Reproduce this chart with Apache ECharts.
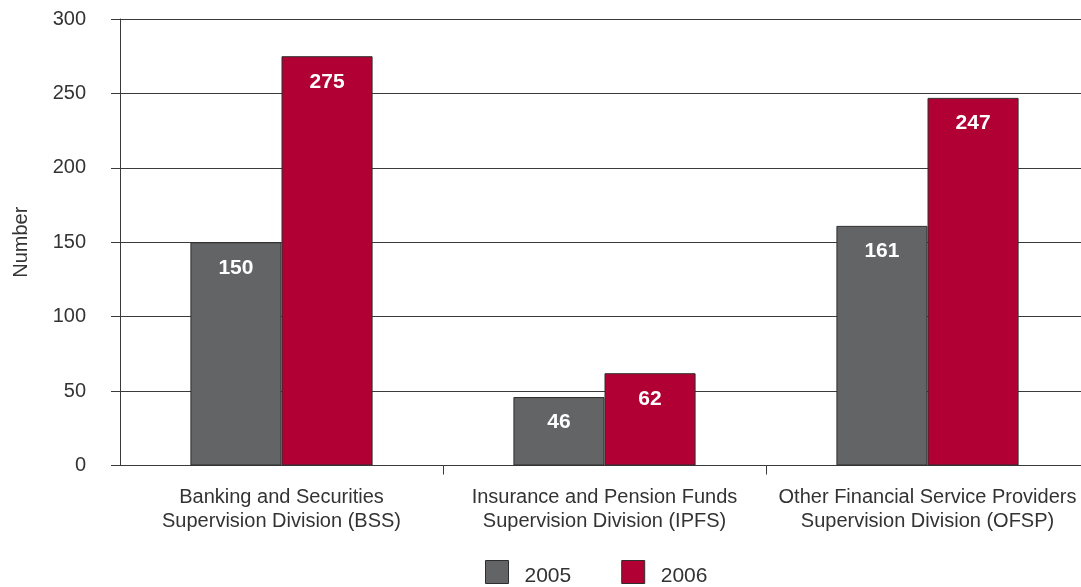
<!DOCTYPE html>
<html>
<head>
<meta charset="utf-8">
<script src="https://cdn.jsdelivr.net/npm/echarts@6/dist/echarts.min.js"></script>
<style>
  html, body { margin: 0; padding: 0; background: #ffffff; }
  #chart { width: 1081px; height: 587px; }
</style>
</head>
<body>
<div id="chart"></div>
<script>
// Supervision divisions and the number of entities supervised in each year
const categories = [
  'Banking and Securities\nSupervision Division (BSS)',
  'Insurance and Pension Funds\nSupervision Division (IPFS)',
  'Other Financial Service Providers\nSupervision Division (OFSP)'
];
const values2005 = [150, 46, 161];
const values2006 = [275, 62, 247];
const seriesNames = ['2005', '2006'];

const textColor = '#333333';
const lineColor = '#3a3a3a';
const fontFamily = '"Liberation Sans", Arial, sans-serif';

const chart = echarts.init(document.getElementById('chart'));

const valueLabel = {
  show: true,
  position: 'insideTop',
  distance: 15,
  color: '#ffffff',
  fontWeight: 'bold',
  fontSize: 21,
  fontFamily: fontFamily
};

chart.setOption({
  animation: false,
  grid: {
    left: 120, top: 19, right: -8, bottom: 121.5,
    containLabel: false,
    outerBoundsMode: 'none'
  },
  legend: {
    data: seriesNames,
    top: 555,
    left: 480,
    icon: 'rect',
    itemWidth: 23,
    itemHeight: 23,
    itemGap: 50,
    itemStyle: { borderColor: '#2e2e2e', borderWidth: 1 },
    formatter: '{yr|{name}}',
    textStyle: {
      color: textColor,
      fontSize: 21,
      fontFamily: fontFamily,
      rich: {
        yr: {
          color: textColor,
          fontSize: 21,
          fontFamily: fontFamily,
          padding: [9, 0, 0, 11]
        }
      }
    }
  },
  xAxis: {
    type: 'category',
    data: categories,
    axisLine: { lineStyle: { color: lineColor, width: 1 } },
    axisTick: {
      show: true,
      length: 9,
      interval: function (index) { return index !== 0; },
      lineStyle: { color: lineColor }
    },
    axisLabel: {
      color: textColor,
      fontSize: 20,
      fontFamily: fontFamily,
      lineHeight: 24,
      margin: 20,
      interval: 0
    }
  },
  yAxis: {
    type: 'value',
    min: 0,
    max: 300,
    interval: 50,
    name: 'Number',
    nameLocation: 'middle',
    nameGap: 89,
    nameRotate: 90,
    nameTextStyle: { color: textColor, fontSize: 20, fontFamily: fontFamily },
    axisLine: { show: true, lineStyle: { color: lineColor, width: 1 } },
    axisTick: { show: true, length: 9, lineStyle: { color: lineColor } },
    axisLabel: { color: textColor, fontSize: 20, fontFamily: fontFamily, margin: 34 },
    splitLine: { show: true, lineStyle: { color: lineColor, width: 1 } }
  },
  series: [
    {
      name: seriesNames[0],
      type: 'bar',
      data: values2005,
      barWidth: '28.2%',
      barGap: '0%',
      itemStyle: { color: '#636466', borderColor: '#2e2e2e', borderWidth: 1 },
      label: valueLabel
    },
    {
      name: seriesNames[1],
      type: 'bar',
      data: values2006,
      barWidth: '28.2%',
      barGap: '0%',
      itemStyle: { color: '#b10034', borderColor: '#2e2e2e', borderWidth: 1 },
      label: valueLabel
    }
  ]
});
</script>
</body>
</html>
